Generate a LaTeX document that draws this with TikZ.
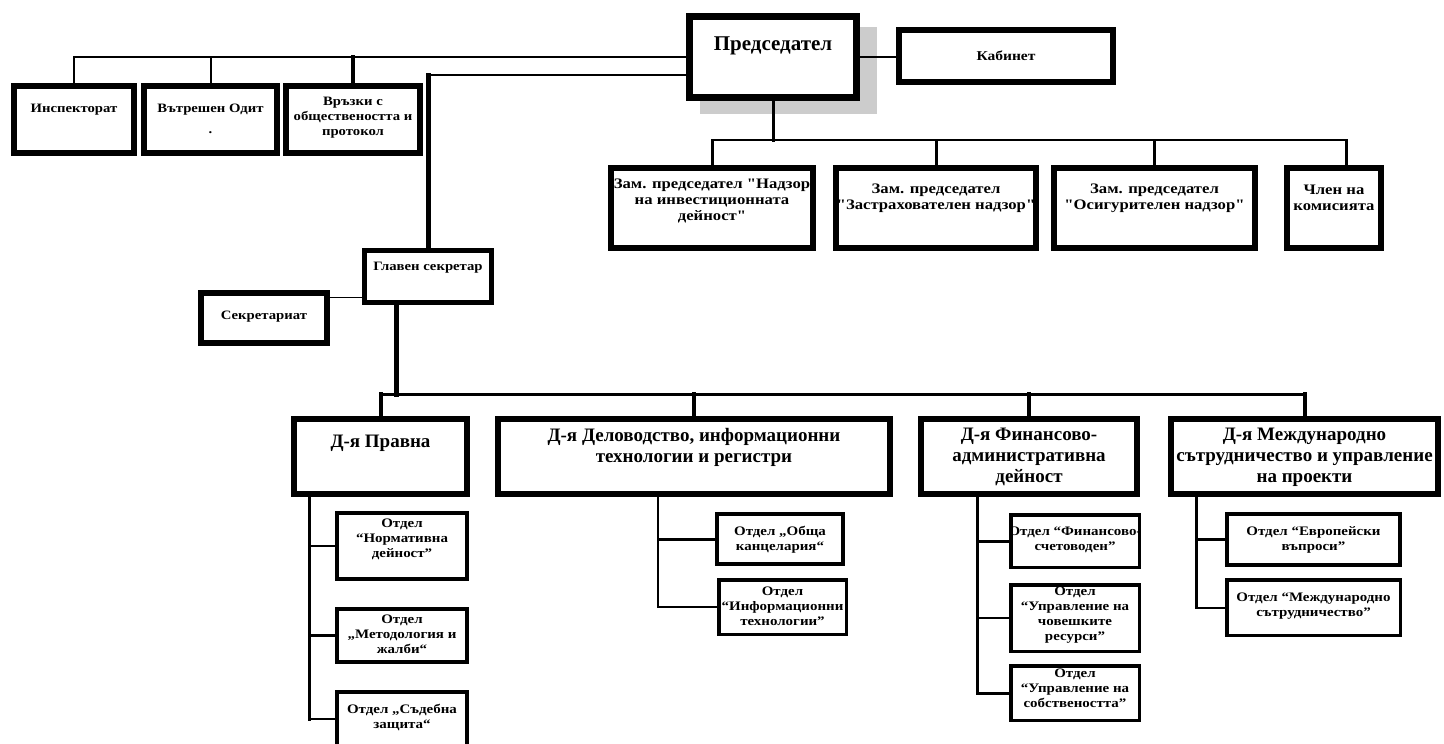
\documentclass[tikz,border=0pt]{standalone}
\usepackage{fontspec}
\newfontfamily\lsf{Liberation Serif}[FakeStretch=1.15]
\newfontfamily\lsn{Liberation Serif}
\usetikzlibrary{calc}
\newcommand\obox[7][]{%
  \pgfmathsetmacro\obw{#5-#3-#7}\pgfmathsetmacro\obh{#6-#4-#7}%
  \pgfmathsetmacro\obx{(#3+#5)/2}\pgfmathsetmacro\oby{(#4+#6)/2}%
  \node[box, line width=#7pt, minimum width=\obw pt, minimum height=\obh pt,#1] (#2) at (\obx,\oby) {};}
\tikzset{
  box/.style={draw, fill=white, rectangle, inner sep=0pt, outer sep=0pt},
  txt/.style={align=center, inner sep=0pt},
  fsmall/.style={font=\lsf\bfseries\fontsize{12.8}{15}\selectfont},
  fkab/.style={font=\lsf\bfseries\fontsize{13.5}{15}\selectfont},
  fbig/.style={font=\lsn\bfseries\fontsize{21}{23}\selectfont},
  fzam/.style={font=\lsf\bfseries\fontsize{14.5}{16}\selectfont},
  fdep/.style={font=\lsn\bfseries\fontsize{19}{21}\selectfont},
  fsub/.style={font=\lsf\bfseries\fontsize{13}{15}\selectfont},
  ln/.style={line width=#1pt, line cap=rect},
}
\begin{document}
\begin{tikzpicture}[x=1pt,y=-1pt]
\useasboundingbox (0,0) rectangle (1444,744);
% shadow of chairman
\fill[black!20] (700,27) rectangle (877,114);
% named coordinates for buses
\coordinate (bus1) at (0,57);
\coordinate (bus2) at (0,140);
\coordinate (bus3) at (0,394);
\coordinate (c2) at (428,75);
\coordinate (gv) at (396,305);
\coordinate (sl) at (0,297);
\coordinate (pv) at (309,494);
\coordinate (dv) at (658,494);
\coordinate (fv) at (977,494);
\coordinate (mv) at (1196,494);
% boxes
\obox{insp}{11}{83}{137}{156}{6}
\obox{vnod}{141}{83}{280}{156}{6}
\obox{vrz}{283}{83}{423}{156}{6}
\obox{pred}{686}{13}{860}{101}{7}
\obox{kab}{896}{27}{1116}{85}{6}
\obox{zam1}{608}{165}{816}{251}{6}
\obox{zam2}{833}{165}{1039}{251}{6}
\obox{zam3}{1051}{165}{1258}{251}{6}
\obox{clen}{1284}{165}{1384}{251}{6}
\obox{glav}{362}{248}{494}{305}{5}
\obox{sekr}{198}{290}{330}{346}{6}
\obox{prav}{291}{416}{470}{497}{6}
\obox{delo}{495}{416}{893}{497}{6}
\obox{fina}{918}{416}{1140}{497}{6}
\obox{mezh}{1168}{416}{1441}{497}{6}
\obox{norm}{335}{511}{469}{581}{4}
\obox{meto}{335}{607}{469}{664}{4}
\obox{sud}{335}{690}{469}{748}{4}
\obox{obsh}{715}{512}{845}{566}{4}
\obox{info}{717}{578}{848}{636}{3.5}
\obox{sche}{1009}{513}{1141}{569}{3.5}
\obox{chr}{1009}{583}{1141}{653}{3.5}
\obox{sobs}{1009}{664}{1141}{722}{3.5}
\obox{evro}{1225}{512}{1402}{567}{4}
\obox{mesu}{1225}{578}{1402}{637}{3.5}
% connectors
\draw[ln=2] (insp.north |- bus1) -- (pred.west);
\draw[ln=2] (insp.north) -- (insp.north |- bus1);
\draw[ln=2] (vnod.north) -- (vnod.north |- bus1);
\draw[ln=4] (vrz.north) -- (vrz.north |- bus1);
\draw[ln=1.5] (pred.east) -- (pred.east -| kab.west);
\draw[ln=2.5] (c2) -- (c2 -| pred.west);
\draw[ln=5] (glav.north) -- (c2);
\draw[ln=3] (pred.south) -- (pred.south |- bus2);
\draw[ln=2] (zam1.north |- bus2) -- ([xshift=12pt]clen.north |- bus2);
\draw[ln=3] (zam1.north) -- (zam1.north |- bus2);
\draw[ln=3] (zam2.north) -- (zam2.north |- bus2);
\draw[ln=3] (zam3.north) -- (zam3.north |- bus2);
\draw[ln=3] ([xshift=12pt]clen.north) -- ([xshift=12pt]clen.north |- bus2);
\draw[ln=1] (sekr.east |- sl) -- (glav.west |- sl);
\draw[ln=5] (gv) -- (gv |- bus3);
\draw[ln=3] (prav.north |- bus3) -- (mezh.north |- bus3);
\draw[ln=4] (prav.north) -- (prav.north |- bus3);
\draw[ln=4] (delo.north) -- (delo.north |- bus3);
\draw[ln=4] (fina.north) -- (fina.north |- bus3);
\draw[ln=4] (mezh.north) -- (mezh.north |- bus3);
\draw[ln=3] (pv) -- (pv |- sud.west);
\draw[ln=2.5] (pv |- norm.west) -- (norm.west);
\draw[ln=2.5] (pv |- meto.west) -- (meto.west);
\draw[ln=2.5] (pv |- sud.west) -- (sud.west);
\draw[ln=2] (dv) -- (dv |- info.west);
\draw[ln=3] (dv |- obsh.west) -- (obsh.west);
\draw[ln=2] (dv |- info.west) -- (info.west);
\draw[ln=3] (fv) -- (fv |- sobs.west);
\draw[ln=3] (fv |- sche.west) -- (sche.west);
\draw[ln=2] (fv |- chr.west) -- (chr.west);
\draw[ln=3] (fv |- sobs.west) -- (sobs.west);
\draw[ln=3] (mv) -- (mv |- mesu.west);
\draw[ln=3] (mv |- evro.west) -- (evro.west);
\draw[ln=2] (mv |- mesu.west) -- (mesu.west);
% texts
\node[txt,fsmall] (insp-t) at (74,110) {Инспекторат};
\node[txt,fsmall] (vnod-t) at (210.5,119) {Вътрешен Одит\\[6pt].};
\node[txt,fsmall] (vrz-t) at (353,118) {Връзки с\\обществеността и\\протокол};
\node[txt,fbig] (pred-t) at (773,46) {Председател};
\node[txt,fkab] (kab-t) at (1006,56) {Кабинет};
\node[txt,fzam] (zam1-t) at (712,201) {Зам. председател "Надзор\\на инвестиционната\\дейност"};
\node[txt,fzam] (zam2-t) at (936,198) {Зам. председател\\"Застрахователен надзор"};
\node[txt,fzam] (zam3-t) at (1154.5,198) {Зам. председател\\"Осигурителен надзор"};
\node[txt,fzam] (clen-t) at (1334,198) {Член на\\комисията};
\node[txt,fsmall] (glav-t) at (428,268) {Главен секретар};
\node[txt,fsmall] (sekr-t) at (264,317) {Секретариат};
\node[txt,fdep] (prav-t) at (380.5,443) {Д-я Правна};
\node[txt,fdep] (delo-t) at (694,447) {Д-я Деловодство, информационни\\технологии и регистри};
\node[txt,fdep] (fina-t) at (1029,457) {Д-я Финансово-\\административна\\дейност};
\node[txt,fdep] (mezh-t) at (1304.5,457) {Д-я Международно\\сътрудничество и управление\\на проекти};
\node[txt,fsub] (norm-t) at (402,539) {Отдел\\“Нормативна\\дейност”};
\node[txt,fsub] (meto-t) at (402,634) {Отдел\\„Методология и\\жалби“};
\node[txt,fsub] (sud-t) at (402,717) {Отдел „Съдебна\\защита“};
\node[txt,fsub] (obsh-t) at (780,540) {Отдел „Обща\\канцелария“};
\node[txt,fsub] (info-t) at (782.5,606) {Отдел\\“Информационни\\технологии”};
\node[txt,fsub] (sche-t) at (1075,540) {Отдел “Финансово-\\счетоводен”};
\node[txt,fsub] (chr-t) at (1075,615) {Отдел\\“Управление на\\човешките\\ресурси”};
\node[txt,fsub] (sobs-t) at (1075,688) {Отдел\\“Управление на\\собствеността”};
\node[txt,fsub] (evro-t) at (1313.5,540) {Отдел “Европейски\\въпроси”};
\node[txt,fsub] (mesu-t) at (1313.5,606) {Отдел “Международно\\сътрудничество”};
\end{tikzpicture}
\end{document}
